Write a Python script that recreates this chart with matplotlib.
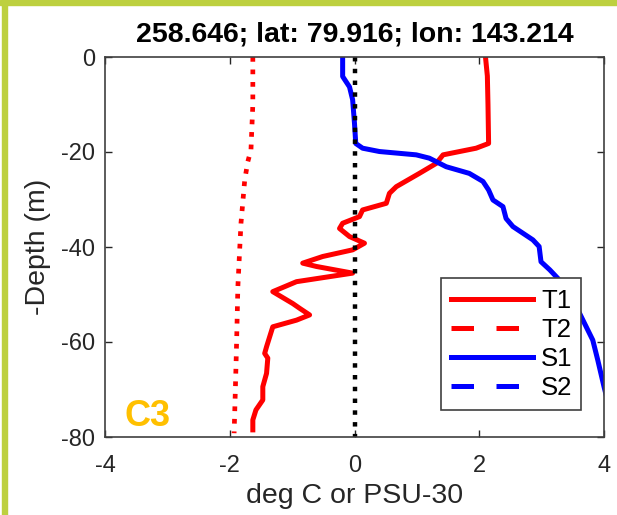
import matplotlib
matplotlib.use("Agg")
import matplotlib.pyplot as plt
from matplotlib.lines import Line2D
from matplotlib.patches import Rectangle

plt.rcParams['font.family'] = ['Liberation Sans', 'DejaVu Sans']
plt.rcParams['axes.unicode_minus'] = False

# T1 (solid red)
t1_depth = [0, -4, -10, -18.2, -19.2, -20.6, -22.4, -24.5, -27.3, -28.7, -30.8,
            -32.2, -33.6, -35, -36.1, -37.8, -39.2, -40.6, -42, -43.4, -44.1,
            -45.5, -47.3, -49.4, -51.9, -52.9, -54.3, -55.4, -56.8, -58.9, -61,
            -62.4, -63.4, -66.6, -69.4, -72.2, -74.3, -76.4, -78.5]
t1_val = [2.10, 2.13, 2.14, 2.15, 1.95, 1.42, 1.31, 1.04, 0.67, 0.56, 0.51,
          0.13, 0.08, -0.19, -0.24, -0.08, 0.16, -0.03, -0.51, -0.83, -0.61,
          -0.03, -0.93, -1.31, -0.99, -0.88, -0.72, -0.93, -1.31, -1.36, -1.41,
          -1.44, -1.39, -1.41, -1.47, -1.47, -1.58, -1.63, -1.63]

# T2 (drawn dotted)
t2_depth = [0, -10, -19.6, -22, -25.9, -35, -48.4, -60, -70, -79.2]
t2_val = [-1.63, -1.63, -1.66, -1.71, -1.76, -1.82, -1.87, -1.89, -1.91, -1.93]

# S1 (solid blue), salinity - 30
s1_depth = [0, -4.1, -6.3, -9, -14, -18.2, -19.2, -19.9, -20.6, -21.3, -23.1,
            -24.5, -26.2, -28, -30.1, -31.5, -34, -35.7, -38.5, -39.9, -43.1,
            -44.8, -46.6, -48.4, -54, -59.6, -63.8, -69.4, -72]
s1_val = [-0.19, -0.19, -0.08, -0.03, 0.0, 0.02, 0.13, 0.40, 0.99, 1.2, 1.47,
          1.84, 2.06, 2.15, 2.22, 2.38, 2.43, 2.54, 2.86, 2.96, 2.99,
          3.13, 3.26, 3.34, 3.61, 3.82, 3.9, 4.0, 4.05]

zero_depth = [0, -80]
zero_val = [0, 0]

title = "258.646; lat: 79.916; lon: 143.214"
green = '#bdd03f'
gray = '#262626'

fig = plt.figure(figsize=(6.17, 5.15), dpi=100)
ax = fig.add_axes([105 / 617, 78 / 515, 499 / 617, 380 / 515])

ax.plot(t1_val, t1_depth, color='red', lw=3.6, solid_joinstyle='round')
ax.plot(t2_val, t2_depth, color='red', lw=3.4, ls=':')
ax.plot(s1_val, s1_depth, color='blue', lw=3.6, solid_joinstyle='round')
ax.plot(zero_val, zero_depth, color='black', lw=3.2, ls=':')

ax.set_xlim(-4, 4)
ax.set_ylim(-80, 0)
ax.set_xticks([-4, -2, 0, 2, 4])
ax.set_yticks([-80, -60, -40, -20, 0])
ax.tick_params(direction='in', length=5, width=1, colors=gray, labelsize=17,
               top=True, right=True)
ax.tick_params(axis='x', pad=13)
ax.tick_params(axis='y', pad=7)
for s in ax.spines.values():
    s.set_color('#404040')
    s.set_linewidth(1.2)

ax.set_xlabel("deg C or PSU-30", fontsize=20.5, color=gray)
ax.set_ylabel("-Depth (m)", fontsize=20.5, color=gray)
ax.xaxis.set_label_coords(0.5, -0.122)
ax.yaxis.set_label_coords(-0.108, 0.5)
ax.set_title(title, fontsize=20.5, fontweight='bold', pad=11)

ax.text(0.04, 0.028, "C3", transform=ax.transAxes, color='#ffc000',
        fontsize=26, fontweight='bold')

handles = [Line2D([], [], color='red', lw=3.6),
           Line2D([], [], color='red', lw=3.6, ls=(0, (4.5, 4.5))),
           Line2D([], [], color='blue', lw=3.6),
           Line2D([], [], color='blue', lw=3.6, ls=(0, (4.5, 4.5)))]
leg = ax.legend(handles, ['T1', 'T2', 'S1', 'S2'], loc='lower left',
                bbox_to_anchor=(0.673, 0.07, 0.28, 0.33), mode='expand',
                fontsize=18.5, handlelength=3.2, fancybox=False, framealpha=1,
                edgecolor='#404040', borderaxespad=0, labelspacing=0.2,
                handletextpad=0.3, borderpad=0.4)
leg.get_frame().set_linewidth(1.2)

# green frame around the panel
fig.patches.append(Rectangle((0, 510 / 515), 1, 5 / 515, transform=fig.transFigure,
                             color=green, zorder=0))
fig.patches.append(Rectangle((2 / 617, 0), 5 / 617, 1, transform=fig.transFigure,
                             color=green, zorder=0))

fig.savefig("out.png", dpi=100)
